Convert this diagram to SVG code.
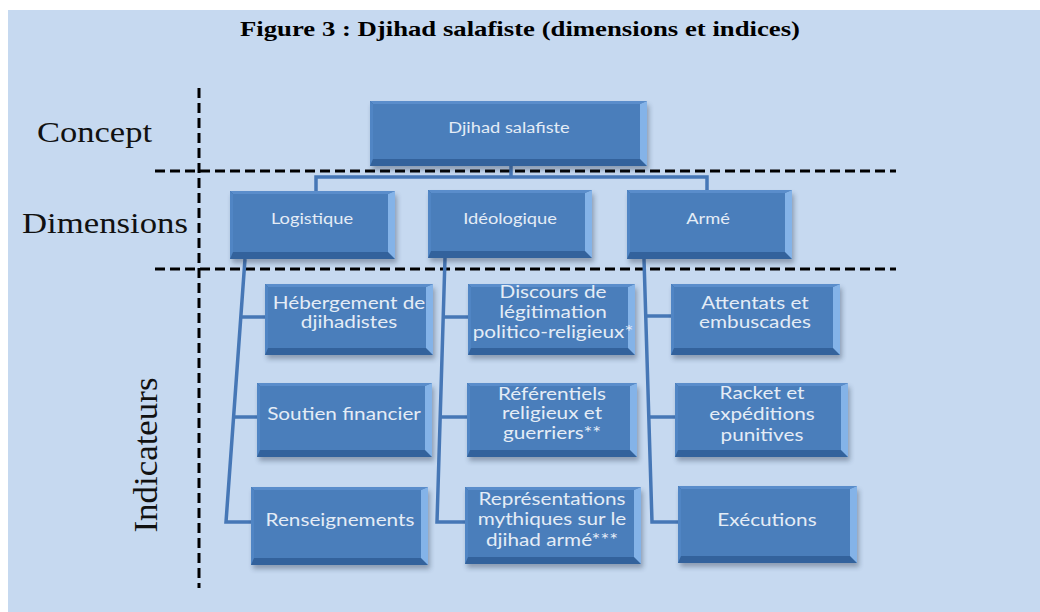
<svg xmlns="http://www.w3.org/2000/svg" width="1040" height="612" viewBox="0 0 1040 612">
<style>
.sh{fill:#1a2a40;opacity:.35;filter:url(#blur)}
.bd{fill:#33629c}
.bt{fill:#5a8dcb}
.bl{fill:#5085c4}
.br{fill:#84b3e8}
.fc{fill:#4a7ebb}
.t{font-family:Lato,"Open Sans",sans-serif;font-size:17px;fill:#e4ecf6;text-anchor:middle}
.t1{font-family:Lato,"Open Sans",sans-serif;font-size:15px;fill:#e4ecf6;text-anchor:middle}
.lab{font-family:"Liberation Serif",serif;fill:#111}
.cn{fill:none;stroke:#4677b6;stroke-width:3.5}
.dl{fill:none;stroke:#000;stroke-width:3;stroke-dasharray:10 5}
</style>
<defs>
<filter id="blur" x="-10%" y="-10%" width="120%" height="130%"><feGaussianBlur stdDeviation="2.5"/></filter>
</defs>
<rect x="0" y="0" width="1040" height="612" fill="#ffffff"/>
<rect x="8" y="10" width="1032" height="602" fill="#c6d9f0"/>
<text x="520" y="36" font-family="'Liberation Serif',serif" font-weight="bold" font-size="21" text-anchor="middle" textLength="560" lengthAdjust="spacingAndGlyphs" fill="#000">Figure 3 : Djihad salafiste (dimensions et indices)</text>

<g id="labels">
<text class="lab" x="37" y="142" font-size="29" textLength="115" lengthAdjust="spacingAndGlyphs">Concept</text>
<text class="lab" x="22" y="233" font-size="29" textLength="166" lengthAdjust="spacingAndGlyphs">Dimensions</text>
<text class="lab" transform="translate(157,455) rotate(-90)" x="0" y="0" font-size="34" text-anchor="middle" textLength="155" lengthAdjust="spacingAndGlyphs">Indicateurs</text>
</g>

<g id="guides">
<path class="dl" d="M155,171 H896"/>
<path class="dl" d="M155,269 H896"/>
<path class="dl" d="M199,88 V588"/>
</g>

<g id="connectors">
<path class="cn" d="M511,166 V177"/>
<path class="cn" d="M316,191 V177 H707 V190"/>
<path class="cn" d="M245,259 L226,522 H251"/>
<path class="cn" d="M241,317 H265"/>
<path class="cn" d="M234,417 H257"/>
<path class="cn" d="M445,258 L437,522 H465"/>
<path class="cn" d="M443,317 H468"/>
<path class="cn" d="M440,417 H467"/>
<path class="cn" d="M644,259 L652,522 H678"/>
<path class="cn" d="M646,316 H671"/>
<path class="cn" d="M649,417 H675"/>
</g>

<g id="n-djihad">
<rect class="sh" x="372" y="105" width="277" height="65"/>
<rect class="bd" x="370" y="101" width="277" height="65"/>
<polygon class="bt" points="370,101 647,101 640,104 373,104"/>
<polygon class="bl" points="370,101 373,104 373,159 370,166"/>
<polygon class="br" points="647,101 647,166 640,159 640,104"/>
<rect class="fc" x="373" y="104" width="267" height="55"/>
<text class="t1" transform="translate(509,133) scale(1.22,1)">Djihad salafiste</text>
</g>

<g id="n-logistique">
<rect class="sh" x="232" y="195" width="165" height="68"/>
<rect class="bd" x="230" y="191" width="165" height="68"/>
<polygon class="bt" points="230,191 395,191 388,194 233,194"/>
<polygon class="bl" points="230,191 233,194 233,252 230,259"/>
<polygon class="br" points="395,191 395,259 388,252 388,194"/>
<rect class="fc" x="233" y="194" width="155" height="58"/>
<text class="t1" transform="translate(312,224) scale(1.22,1)">Logistique</text>
</g>

<g id="n-ideologique">
<rect class="sh" x="430" y="194" width="164" height="68"/>
<rect class="bd" x="428" y="190" width="164" height="68"/>
<polygon class="bt" points="428,190 592,190 585,193 431,193"/>
<polygon class="bl" points="428,190 431,193 431,251 428,258"/>
<polygon class="br" points="592,190 592,258 585,251 585,193"/>
<rect class="fc" x="431" y="193" width="154" height="58"/>
<text class="t1" transform="translate(510,224) scale(1.22,1)">Idéologique</text>
</g>

<g id="n-arme">
<rect class="sh" x="629" y="194" width="165" height="69"/>
<rect class="bd" x="627" y="190" width="165" height="69"/>
<polygon class="bt" points="627,190 792,190 785,193 630,193"/>
<polygon class="bl" points="627,190 630,193 630,252 627,259"/>
<polygon class="br" points="792,190 792,259 785,252 785,193"/>
<rect class="fc" x="630" y="193" width="155" height="59"/>
<text class="t1" transform="translate(708,224) scale(1.22,1)">Armé</text>
</g>

<g id="n-hebergement">
<rect class="sh" x="267" y="288" width="168" height="71"/>
<rect class="bd" x="265" y="284" width="168" height="71"/>
<polygon class="bt" points="265,284 433,284 426,287 268,287"/>
<polygon class="bl" points="265,284 268,287 268,348 265,355"/>
<polygon class="br" points="433,284 433,355 426,348 426,287"/>
<rect class="fc" x="268" y="287" width="158" height="61"/>
<text class="t" transform="translate(349,309) scale(1.22,1)"><tspan x="0" y="0">Hébergement de</tspan><tspan x="0" y="19">djihadistes</tspan></text>
</g>

<g id="n-soutien">
<rect class="sh" x="259" y="387" width="175" height="74"/>
<rect class="bd" x="257" y="383" width="175" height="74"/>
<polygon class="bt" points="257,383 432,383 425,386 260,386"/>
<polygon class="bl" points="257,383 260,386 260,450 257,457"/>
<polygon class="br" points="432,383 432,457 425,450 425,386"/>
<rect class="fc" x="260" y="386" width="165" height="64"/>
<text class="t" transform="translate(344,420) scale(1.22,1)">Soutien financier</text>
</g>

<g id="n-renseignements">
<rect class="sh" x="253" y="491" width="177" height="78"/>
<rect class="bd" x="251" y="487" width="177" height="78"/>
<polygon class="bt" points="251,487 428,487 421,490 254,490"/>
<polygon class="bl" points="251,487 254,490 254,558 251,565"/>
<polygon class="br" points="428,487 428,565 421,558 421,490"/>
<rect class="fc" x="254" y="490" width="167" height="68"/>
<text class="t" transform="translate(340,526) scale(1.22,1)">Renseignements</text>
</g>

<g id="n-discours">
<rect class="sh" x="470" y="288" width="167" height="71"/>
<rect class="bd" x="468" y="284" width="167" height="71"/>
<polygon class="bt" points="468,284 635,284 628,287 471,287"/>
<polygon class="bl" points="468,284 471,287 471,348 468,355"/>
<polygon class="br" points="635,284 635,355 628,348 628,287"/>
<rect class="fc" x="471" y="287" width="157" height="61"/>
<text class="t" transform="translate(553,298) scale(1.22,1)"><tspan x="0" y="0">Discours de</tspan><tspan x="0" y="20">légitimation</tspan><tspan x="0" y="40">politico-religieux*</tspan></text>
</g>

<g id="n-referentiels">
<rect class="sh" x="469" y="387" width="170" height="74"/>
<rect class="bd" x="467" y="383" width="170" height="74"/>
<polygon class="bt" points="467,383 637,383 630,386 470,386"/>
<polygon class="bl" points="467,383 470,386 470,450 467,457"/>
<polygon class="br" points="637,383 637,457 630,450 630,386"/>
<rect class="fc" x="470" y="386" width="160" height="64"/>
<text class="t" transform="translate(552,400) scale(1.22,1)"><tspan x="0" y="0">Référentiels</tspan><tspan x="0" y="19.5">religieux et</tspan><tspan x="0" y="39">guerriers**</tspan></text>
</g>

<g id="n-representations">
<rect class="sh" x="467" y="491" width="176" height="77"/>
<rect class="bd" x="465" y="487" width="176" height="77"/>
<polygon class="bt" points="465,487 641,487 634,490 468,490"/>
<polygon class="bl" points="465,487 468,490 468,557 465,564"/>
<polygon class="br" points="641,487 641,564 634,557 634,490"/>
<rect class="fc" x="468" y="490" width="166" height="67"/>
<text class="t" transform="translate(552,505) scale(1.22,1)"><tspan x="0" y="0">Représentations</tspan><tspan x="0" y="20">mythiques sur le</tspan><tspan x="0" y="41">djihad armé***</tspan></text>
</g>

<g id="n-attentats">
<rect class="sh" x="673" y="288" width="169" height="71"/>
<rect class="bd" x="671" y="284" width="169" height="71"/>
<polygon class="bt" points="671,284 840,284 833,287 674,287"/>
<polygon class="bl" points="671,284 674,287 674,348 671,355"/>
<polygon class="br" points="840,284 840,355 833,348 833,287"/>
<rect class="fc" x="674" y="287" width="159" height="61"/>
<text class="t" transform="translate(755,309) scale(1.22,1)"><tspan x="0" y="0">Attentats et</tspan><tspan x="0" y="19">embuscades</tspan></text>
</g>

<g id="n-racket">
<rect class="sh" x="677" y="387" width="173" height="74"/>
<rect class="bd" x="675" y="383" width="173" height="74"/>
<polygon class="bt" points="675,383 848,383 841,386 678,386"/>
<polygon class="bl" points="675,383 678,386 678,450 675,457"/>
<polygon class="br" points="848,383 848,457 841,450 841,386"/>
<rect class="fc" x="678" y="386" width="163" height="64"/>
<text class="t" transform="translate(762,399) scale(1.22,1)"><tspan x="0" y="0">Racket et</tspan><tspan x="0" y="21">expéditions</tspan><tspan x="0" y="42">punitives</tspan></text>
</g>

<g id="n-executions">
<rect class="sh" x="680" y="490" width="179" height="77"/>
<rect class="bd" x="678" y="486" width="179" height="77"/>
<polygon class="bt" points="678,486 857,486 850,489 681,489"/>
<polygon class="bl" points="678,486 681,489 681,556 678,563"/>
<polygon class="br" points="857,486 857,563 850,556 850,489"/>
<rect class="fc" x="681" y="489" width="169" height="67"/>
<text class="t" transform="translate(767,526) scale(1.22,1)">Exécutions</text>
</g>
</svg>
